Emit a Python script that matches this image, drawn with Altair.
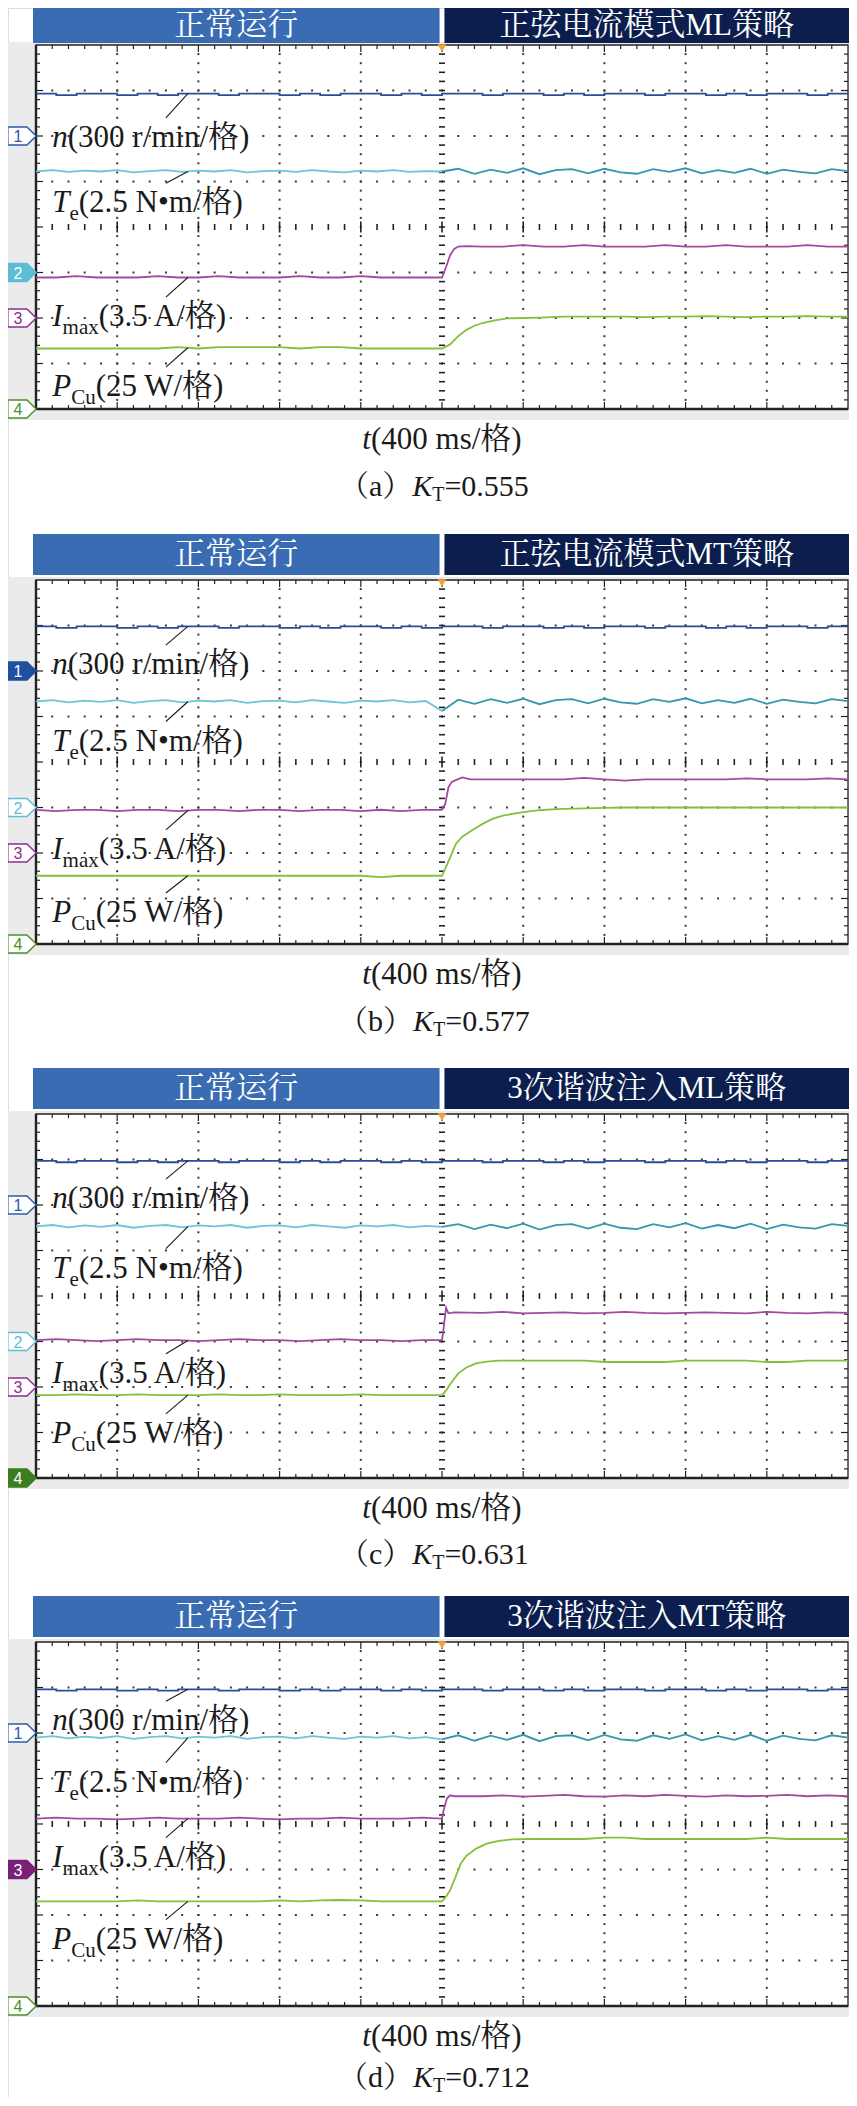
import altair as alt
import pandas as pd

# ---------------- layout ----------------
PX = 81.2          # px per horizontal division
PY = 45.5          # px per vertical division
W = 841
X0 = -28 / PX
X1 = 10 + 1 / PX
OFF = [0, 526, 1060, 1588]        # panel tops (px from chart top)
PLOT_TOP = [37, 46, 46, 46]        # plot top inside each panel
HEAD_H = [35, 41, 41, 41]
CAP_BASE = [87, 87, 86, 81]
HTOT = 2089
SERIF = "Liberation Serif, Noto Serif CJK SC, Noto Sans CJK SC"
SANS = "Liberation Sans, DejaVu Sans"

# ---------------- data (x: divisions 0..10, y: divisions 0..8) ----------------
HEAD_LEFT = "正常运行"
HEAD_RIGHT = ["正弦电流模式ML策略", "正弦电流模式MT策略", "3次谐波注入ML策略", "3次谐波注入MT策略"]
CAP_LETTER = ["a", "b", "c", "d"]
KT = ["0.555", "0.577", "0.631", "0.712"]

T_N = [round(0.25 * i, 2) for i in range(41)]
T_TE = [round(0.2 * i, 2) for i in range(51)]
T_PRE = [round(0.25 * i, 2) for i in range(21)]
T_IPOST = [round(5.5 + 0.25 * i, 2) for i in range(19)]
T_PPOST = [round(6.5 + 0.25 * i, 2) for i in range(15)]

N = [
    [6.93, 6.90, 6.93, 6.93, 6.90, 6.93, 6.90, 6.93, 6.93, 6.90, 6.93, 6.93, 6.90, 6.93, 6.90, 6.93, 6.93, 6.90, 6.93, 6.90,
     6.93, 6.93, 6.90, 6.93, 6.93, 6.90, 6.93, 6.90, 6.93, 6.93, 6.90, 6.93, 6.93, 6.90, 6.93, 6.90, 6.93, 6.93, 6.90, 6.93, 6.93],
    [6.98, 6.95, 6.98, 6.98, 6.95, 6.98, 6.95, 6.98, 6.98, 6.95, 6.98, 6.98, 6.95, 6.98, 6.95, 6.98, 6.98, 6.95, 6.98, 6.95,
     6.98, 6.98, 6.95, 6.98, 6.98, 6.95, 6.98, 6.95, 6.98, 6.98, 6.95, 6.98, 6.98, 6.95, 6.98, 6.95, 6.98, 6.98, 6.95, 6.98, 6.98],
    [6.97, 6.94, 6.97, 6.97, 6.94, 6.97, 6.94, 6.97, 6.97, 6.94, 6.97, 6.97, 6.94, 6.97, 6.94, 6.97, 6.97, 6.94, 6.97, 6.94,
     6.97, 6.97, 6.94, 6.97, 6.97, 6.94, 6.97, 6.94, 6.97, 6.97, 6.94, 6.97, 6.97, 6.94, 6.97, 6.94, 6.97, 6.97, 6.94, 6.97, 6.97],
    [6.96, 6.93, 6.96, 6.96, 6.93, 6.96, 6.93, 6.96, 6.96, 6.93, 6.96, 6.96, 6.93, 6.96, 6.93, 6.96, 6.96, 6.93, 6.96, 6.93,
     6.96, 6.96, 6.93, 6.96, 6.96, 6.93, 6.96, 6.93, 6.96, 6.96, 6.93, 6.96, 6.96, 6.93, 6.96, 6.93, 6.96, 6.96, 6.93, 6.96, 6.96],
]

TE = [
    [5.22, 5.25, 5.21, 5.24, 5.22, 5.25, 5.20, 5.23, 5.25, 5.21, 5.24, 5.22, 5.25, 5.20, 5.23, 5.24, 5.21, 5.25, 5.22, 5.20,
     5.24, 5.22, 5.25, 5.21, 5.23, 5.22,
     5.28, 5.17, 5.26, 5.19, 5.29, 5.16, 5.25, 5.27, 5.18, 5.28, 5.20, 5.17, 5.27, 5.21, 5.29, 5.18, 5.25, 5.19, 5.28, 5.17,
     5.26, 5.21, 5.18, 5.27, 5.23],
    [5.33, 5.36, 5.31, 5.35, 5.32, 5.36, 5.30, 5.34, 5.36, 5.31, 5.35, 5.33, 5.36, 5.30, 5.34, 5.35, 5.31, 5.36, 5.33, 5.30,
     5.35, 5.33, 5.36, 5.31, 5.34, 5.12,
     5.37, 5.28, 5.38, 5.30, 5.39, 5.27, 5.36, 5.38, 5.29, 5.39, 5.31, 5.28, 5.38, 5.32, 5.40, 5.29, 5.36, 5.30, 5.39, 5.28,
     5.37, 5.32, 5.29, 5.38, 5.34],
    [5.53, 5.56, 5.51, 5.55, 5.52, 5.56, 5.50, 5.54, 5.56, 5.51, 5.55, 5.53, 5.56, 5.50, 5.54, 5.55, 5.51, 5.56, 5.53, 5.50,
     5.55, 5.53, 5.56, 5.51, 5.54, 5.52,
     5.58, 5.47, 5.57, 5.49, 5.59, 5.46, 5.56, 5.58, 5.48, 5.59, 5.50, 5.47, 5.58, 5.51, 5.60, 5.48, 5.56, 5.49, 5.59, 5.47,
     5.57, 5.51, 5.48, 5.58, 5.54],
    [5.90, 5.93, 5.88, 5.92, 5.89, 5.93, 5.87, 5.91, 5.93, 5.88, 5.92, 5.90, 5.93, 5.87, 5.91, 5.92, 5.88, 5.93, 5.90, 5.87,
     5.92, 5.90, 5.93, 5.88, 5.91, 5.86,
     5.95, 5.83, 5.94, 5.85, 5.96, 5.82, 5.93, 5.95, 5.84, 5.96, 5.86, 5.83, 5.95, 5.87, 5.97, 5.84, 5.93, 5.85, 5.96, 5.83,
     5.94, 5.87, 5.84, 5.95, 5.90],
]

IMAX_PRE = [
    [2.89, 2.89, 2.92, 2.89, 2.89, 2.89, 2.92, 2.89, 2.89, 2.92, 2.89, 2.89, 2.89, 2.92, 2.89, 2.89, 2.92, 2.89, 2.89, 2.89, 2.89],
    [2.95, 2.92, 2.95, 2.95, 2.92, 2.95, 2.95, 2.92, 2.95, 2.95, 2.92, 2.95, 2.95, 2.92, 2.95, 2.95, 2.92, 2.95, 2.92, 2.95, 2.95],
    [3.03, 3.05, 3.03, 3.01, 3.03, 3.05, 3.03, 3.03, 3.01, 3.03, 3.05, 3.03, 3.03, 3.01, 3.03, 3.05, 3.03, 3.03, 3.01, 3.03, 3.03],
    [4.12, 4.14, 4.12, 4.12, 4.10, 4.12, 4.14, 4.12, 4.12, 4.12, 4.14, 4.12, 4.10, 4.12, 4.12, 4.14, 4.12, 4.12, 4.12, 4.14, 4.12],
]
IMAX_RISE_T = [
    [5.05, 5.1, 5.15, 5.2, 5.3],
    [5.04, 5.08, 5.12, 5.17, 5.25, 5.35],
    [5.02, 5.05, 5.08, 5.15],
    [5.02, 5.06, 5.1, 5.15],
]
IMAX_RISE_V = [
    [3.12, 3.38, 3.52, 3.57, 3.58],
    [3.08, 3.45, 3.56, 3.60, 3.66, 3.62],
    [3.30, 3.74, 3.62, 3.64],
    [4.30, 4.56, 4.63, 4.61],
]
IMAX_POST = [
    [3.57, 3.57, 3.60, 3.57, 3.57, 3.60, 3.57, 3.57, 3.57, 3.60, 3.57, 3.57, 3.60, 3.57, 3.57, 3.57, 3.60, 3.57, 3.57],
    [3.62, 3.62, 3.62, 3.62, 3.62, 3.65, 3.62, 3.59, 3.62, 3.62, 3.62, 3.62, 3.62, 3.64, 3.62, 3.62, 3.62, 3.64, 3.62],
    [3.63, 3.65, 3.62, 3.63, 3.64, 3.62, 3.63, 3.65, 3.63, 3.62, 3.63, 3.64, 3.63, 3.62, 3.65, 3.63, 3.62, 3.64, 3.63],
    [4.61, 4.63, 4.60, 4.62, 4.64, 4.61, 4.60, 4.63, 4.61, 4.64, 4.62, 4.60, 4.63, 4.61, 4.62, 4.64, 4.61, 4.63, 4.61],
]

PCU_PRE = [
    [1.33, 1.33, 1.33, 1.33, 1.33, 1.33, 1.33, 1.36, 1.33, 1.36, 1.36, 1.36, 1.36, 1.33, 1.36, 1.36, 1.33, 1.33, 1.33, 1.33, 1.33],
    [1.50, 1.50, 1.50, 1.50, 1.50, 1.50, 1.50, 1.50, 1.50, 1.50, 1.50, 1.50, 1.50, 1.50, 1.50, 1.50, 1.50, 1.47, 1.50, 1.50, 1.50],
    [1.82, 1.82, 1.84, 1.82, 1.82, 1.84, 1.82, 1.82, 1.82, 1.84, 1.82, 1.82, 1.84, 1.82, 1.82, 1.82, 1.84, 1.82, 1.82, 1.82, 1.82],
    [2.30, 2.30, 2.30, 2.30, 2.30, 2.32, 2.30, 2.30, 2.30, 2.30, 2.30, 2.30, 2.32, 2.30, 2.32, 2.33, 2.32, 2.30, 2.30, 2.30, 2.30],
]
PCU_RISE_T = [
    [5.1, 5.2, 5.3, 5.4, 5.5, 5.65, 5.8, 6.0, 6.2],
    [5.1, 5.17, 5.25, 5.38, 5.5, 5.62, 5.75, 5.9, 6.05, 6.2, 6.35],
    [5.05, 5.1, 5.2, 5.3, 5.42, 5.55, 5.7, 5.9, 6.2],
    [5.05, 5.1, 5.17, 5.23, 5.3, 5.42, 5.55, 5.7, 5.85, 6.1],
]
PCU_RISE_V = [
    [1.42, 1.60, 1.74, 1.83, 1.89, 1.95, 1.99, 2.00, 2.01],
    [1.90, 2.20, 2.36, 2.51, 2.64, 2.75, 2.82, 2.87, 2.91, 2.94, 2.96],
    [1.92, 2.06, 2.30, 2.43, 2.52, 2.56, 2.58, 2.58, 2.58],
    [2.40, 2.55, 2.85, 3.13, 3.30, 3.46, 3.57, 3.63, 3.66, 3.67],
]
PCU_POST = [
    [2.03, 2.03, 2.03, 2.03, 2.02, 2.03, 2.03, 2.04, 2.03, 2.02, 2.03, 2.03, 2.04, 2.03, 2.03],
    [2.97, 2.98, 2.99, 3.00, 3.00, 3.00, 3.00, 3.00, 3.00, 3.00, 3.00, 3.00, 3.00, 3.00, 3.00],
    [2.58, 2.58, 2.55, 2.55, 2.55, 2.55, 2.58, 2.58, 2.58, 2.58, 2.55, 2.55, 2.58, 2.58, 2.58],
    [3.67, 3.67, 3.70, 3.70, 3.67, 3.67, 3.67, 3.67, 3.67, 3.67, 3.70, 3.67, 3.67, 3.67, 3.67],
]

# label centres (divisions) for n, Te, Imax, PCu
LBL_N = [5.98, 6.15, 6.15, 6.28]
LBL_TE = [4.54, 4.47, 4.62, 4.93]
LBL_IMAX = [2.04, 2.09, 2.31, 3.28]
LBL_PCU = [0.50, 0.70, 0.99, 1.48]

# channel ground markers: level per channel (None = hidden), filled channel index
MARK_Y = [[6, 3, 2, 0], [6, 3, 2, 0], [6, 3, 2, 0], [6, None, 3, 0]]
MARK_FILLED = [1, 0, 3, 2]

# ---------------- colours ----------------
N_COL = "#2b4c97"
TE_COL1 = "#6cc5d8"
TE_COL2 = "#3596ad"
IMAX_COL = "#a04aa0"
PCU_COL = "#84c13b"
CH_COL = ["#2c59a8", "#5cbdd4", "#8e2d8e", "#4c8f2b"]
CH_FILL = ["#1f4f9f", "#5cbdd4", "#7a1f7a", "#3c7d20"]
HEAD_L_COL = "#3a6cb4"
HEAD_R_COL = "#0c1e4e"
BG_GRAY = "#ebebeb"
INK = "#1a1a1a"

W_REG = {'0': .5, '1': .5, '2': .5, '3': .5, '4': .5, '5': .5, '6': .5, '7': .5, '8': .5, '9': .5,
         ' ': .25, '(': .333, ')': .333, '/': .278, '.': .25, '=': .564, 'r': .333, 'm': .778, 'i': .278,
         'n': .5, 'N': .722, '•': .35, 'A': .722, 'W': .944, 's': .389, 'a': .444, 'x': .5, 'e': .444,
         'C': .667, 'u': .5, 'T': .611, 'b': .5, 'c': .444, 'd': .5}
W_IT = {'n': .5, 'T': .556, 'I': .333, 'P': .611, 't': .278, 'K': .667}


def tw(s, italic=False):
    if italic:
        return sum(W_IT.get(c, .5) for c in s)
    return sum(W_REG.get(c, 1.0) for c in s)


def width_of(parts):
    return sum(tw(t, i) * s for t, i, s, _ in parts)


def interp(ts, vs, t):
    for k in range(len(ts) - 1):
        if ts[k] <= t <= ts[k + 1]:
            f = (t - ts[k]) / (ts[k + 1] - ts[k])
            return vs[k] + f * (vs[k + 1] - vs[k])
    return vs[-1]


# containers for all panels (y in panel divisions, shifted to a global scale)
R_RECT, R_DOT, R_TICK, R_BORDER, R_N, R_TR, R_LEAD = [], [], [], [], [], [], []
R_REG, R_ITA, R_HEAD, R_MK, R_TRIG = [], [], [], [], []


def add_panel(p):
    sh = -8 - (OFF[p] + PLOT_TOP[p]) / PY          # global = div + sh
    ytop = 8 + PLOT_TOP[p] / PY                      # panel top in divisions
    head_bot = ytop - HEAD_H[p] / PY

    R_RECT.extend([
        dict(x=X0, x2=X1, y=8 + 3 / PY + sh, y2=-11 / PY + sh, fill=BG_GRAY, o=0),
        dict(x=0, x2=10, y=8 + sh, y2=0 + sh, fill="#ffffff", o=1),
        dict(x=-3 / PX, x2=4.97, y=ytop + sh, y2=head_bot + sh, fill=HEAD_L_COL, o=2),
        dict(x=5.03, x2=X1, y=ytop + sh, y2=head_bot + sh, fill=HEAD_R_COL, o=3),
    ])

    xs_minor = [round(0.2 * i, 2) for i in range(51)]
    ys_minor = [round(0.2 * i, 2) for i in range(41)]
    for xm in [1, 2, 3, 4, 6, 7, 8, 9]:
        for yv in ys_minor[1:-1]:
            R_DOT.append(dict(x=xm, y=yv + sh))
    for ym in [1, 2, 3, 5, 6, 7]:
        for xv in xs_minor[1:-1]:
            R_DOT.append(dict(x=xv, y=ym + sh))

    for xv in xs_minor[1:-1]:
        major = abs(xv - round(xv)) < 1e-6
        L = 7 if major else 4
        R_TICK.append(dict(x=xv, x2=xv, y=8 + sh, y2=8 - L / PY + sh, w=1.2))
        R_TICK.append(dict(x=xv, x2=xv, y=0 + sh, y2=L / PY + sh, w=1.2))
        h = 5.5 if major else 3
        R_TICK.append(dict(x=xv, x2=xv, y=4 - h / PY + sh, y2=4 + h / PY + sh, w=1.6))
    for yv in ys_minor[1:-1]:
        major = abs(yv - round(yv)) < 1e-6
        L = 7 if major else 4
        R_TICK.append(dict(x=0, x2=L / PX, y=yv + sh, y2=yv + sh, w=1.2))
        R_TICK.append(dict(x=10, x2=10 - L / PX, y=yv + sh, y2=yv + sh, w=1.2))
        R_TICK.append(dict(x=5 - 3 / PX, x2=5 + 3 / PX, y=yv + sh, y2=yv + sh, w=1.6))
    R_TICK.append(dict(x=0, x2=0, y=0 + sh, y2=8 + sh, w=2.4))
    R_TICK.append(dict(x=0, x2=10, y=0 + sh, y2=0 + sh, w=2.4))
    R_BORDER.append(dict(x=0, x2=10, y=0 + sh, y2=8 + sh))

    # traces
    for t, v in zip(T_N, N[p]):
        R_N.append(dict(t=t, v=v + sh, k="n%d" % p))
    for t, v in zip(T_TE[:26], TE[p][:26]):
        R_TR.append(dict(t=t, v=v + sh, k="te1_%d" % p, c=TE_COL1))
    for t, v in zip(T_TE[25:], TE[p][25:]):
        R_TR.append(dict(t=t, v=v + sh, k="te2_%d" % p, c=TE_COL2))
    imax_t = T_PRE + IMAX_RISE_T[p] + T_IPOST
    imax_v = IMAX_PRE[p] + IMAX_RISE_V[p] + IMAX_POST[p]
    for t, v in zip(imax_t, imax_v):
        R_TR.append(dict(t=t, v=v + sh, k="imax_%d" % p, c=IMAX_COL))
    pcu_t = T_PRE + PCU_RISE_T[p] + T_PPOST
    pcu_v = PCU_PRE[p] + PCU_RISE_V[p] + PCU_POST[p]
    for t, v in zip(pcu_t, pcu_v):
        R_TR.append(dict(t=t, v=v + sh, k="pcu_%d" % p, c=PCU_COL))

    # leaders
    levels = [interp(T_N, N[p], 1.87), interp(T_TE, TE[p], 1.87),
              interp(imax_t, imax_v, 1.87), interp(pcu_t, pcu_v, 1.87)]
    lbls = [LBL_N[p], LBL_TE[p], LBL_IMAX[p], LBL_PCU[p]]
    for lb, lv in zip(lbls, levels):
        R_LEAD.append(dict(x=1.6, x2=1.87, y=lb + 0.42 + sh, y2=lv + sh))

    # texts
    def compose(parts, x_left, y_base):
        cur = 0.0
        for text, italic, size, dy in parts:
            row = dict(x=x_left + cur / PX, y=y_base - dy / PY + sh, text=text, size=size, color=INK)
            (R_ITA if italic else R_REG).append(row)
            cur += tw(text, italic) * size

    S, SS = 31, 21
    base_shift = 10 / PY
    label_parts = [
        [("n", True, S, 0), ("(300 r/min/格)", False, S, 0)],
        [("T", True, S, 0), ("e", False, SS, 8), ("(2.5 N•m/格)", False, S, 0)],
        [("I", True, S, 0), ("max", False, SS, 8), ("(3.5 A/格)", False, S, 0)],
        [("P", True, S, 0), ("Cu", False, SS, 8), ("(25 W/格)", False, S, 0)],
    ]
    for parts, lb in zip(label_parts, lbls):
        compose(parts, 0.2, lb - base_shift)
    tparts = [("t", True, 31, 0), ("(400 ms/格)", False, 31, 0)]
    compose(tparts, 5.0 - width_of(tparts) / 2 / PX, -40 / PY)
    cparts = [("（", False, 30, 0), (CAP_LETTER[p], False, 30, 0), ("）", False, 30, 0),
              ("K", True, 30, 0), ("T", False, 20, 5), ("=" + KT[p], False, 30, 0)]
    compose(cparts, 4.9 - width_of(cparts) / 2 / PX, -CAP_BASE[p] / PY)

    hy = ytop - (HEAD_H[p] / 2) / PY + sh
    R_HEAD.append(dict(x=(-3 / PX + 4.97) / 2, y=hy, text=HEAD_LEFT))
    R_HEAD.append(dict(x=(5.03 + X1) / 2, y=hy, text=HEAD_RIGHT[p]))

    for ch in range(4):
        yv = MARK_Y[p][ch]
        if yv is None:
            continue
        filled = (MARK_FILLED[p] == ch)
        R_MK.append(dict(x=-14 / PX, y=yv + sh, fill=CH_FILL[ch] if filled else "#ffffff",
                         stroke=CH_FILL[ch] if filled else CH_COL[ch],
                         num=str(ch + 1), nx=-18 / PX, ncol="#ffffff" if filled else CH_COL[ch]))
    R_TRIG.append(dict(x=5.0, y=8 - 3 / PY + sh))


for p in range(4):
    add_panel(p)

XS = alt.Scale(domain=[X0, X1], nice=False, zero=False)
YS = alt.Scale(domain=[-HTOT / PY, 0], nice=False, zero=False)


def ex(f):
    return alt.X(f + ":Q", scale=XS, axis=None)


def ey(f):
    return alt.Y(f + ":Q", scale=YS, axis=None)


l_rect = alt.Chart(pd.DataFrame(R_RECT)).mark_rect().encode(
    x=ex("x"), x2="x2:Q", y=ey("y"), y2="y2:Q", color=alt.Color("fill:N", scale=None), order="o:Q")
l_dots = alt.Chart(pd.DataFrame(R_DOT)).mark_square(size=4, color="#3a3a3a", opacity=1).encode(
    x=ex("x"), y=ey("y"))
l_ticks = alt.Chart(pd.DataFrame(R_TICK)).mark_rule(color="#222222").encode(
    x=ex("x"), x2="x2:Q", y=ey("y"), y2="y2:Q", size=alt.Size("w:Q", scale=None))
l_border = alt.Chart(pd.DataFrame(R_BORDER)).mark_rect(
    fillOpacity=0, stroke="#222222", strokeWidth=1.3).encode(x=ex("x"), x2="x2:Q", y=ey("y"), y2="y2:Q")
l_n = alt.Chart(pd.DataFrame(R_N)).mark_line(interpolate="step-after", strokeWidth=1.8, color=N_COL).encode(
    x=ex("t"), y=ey("v"), detail="k:N")
l_tr = alt.Chart(pd.DataFrame(R_TR)).mark_line(strokeWidth=1.8).encode(
    x=ex("t"), y=ey("v"), color=alt.Color("c:N", scale=None), detail="k:N", order="t:Q")
l_lead = alt.Chart(pd.DataFrame(R_LEAD)).mark_rule(color=INK, strokeWidth=1.1).encode(
    x=ex("x"), x2="x2:Q", y=ey("y"), y2="y2:Q")
l_reg = alt.Chart(pd.DataFrame(R_REG)).mark_text(align="left", baseline="alphabetic", font=SERIF).encode(
    x=ex("x"), y=ey("y"), text="text:N", size=alt.Size("size:Q", scale=None),
    color=alt.Color("color:N", scale=None))
l_ita = alt.Chart(pd.DataFrame(R_ITA)).mark_text(align="left", baseline="alphabetic", font=SERIF,
                                                 fontStyle="italic").encode(
    x=ex("x"), y=ey("y"), text="text:N", size=alt.Size("size:Q", scale=None),
    color=alt.Color("color:N", scale=None))
l_head = alt.Chart(pd.DataFrame(R_HEAD)).mark_text(align="center", baseline="middle", font=SERIF, fontSize=31,
                                                   color="white").encode(x=ex("x"), y=ey("y"), text="text:N")
mk_df = pd.DataFrame(R_MK)
path = "M-1,-0.64L0.35,-0.64L1,0L0.35,0.64L-1,0.64Z"
l_mk = alt.Chart(mk_df).mark_point(shape=path, size=800, filled=True, opacity=1, strokeWidth=1.4).encode(
    x=ex("x"), y=ey("y"), fill=alt.Fill("fill:N", scale=None), stroke=alt.Stroke("stroke:N", scale=None))
l_mkt = alt.Chart(mk_df).mark_text(align="center", baseline="middle", font=SANS, fontSize=16, dy=1).encode(
    x=ex("nx"), y=ey("y"), text="num:N", color=alt.Color("ncol:N", scale=None))
l_trig = alt.Chart(pd.DataFrame(R_TRIG)).mark_point(
    shape="triangle-down", filled=True, opacity=1, size=80, color="#f2a33a").encode(x=ex("x"), y=ey("y"))

chart = alt.layer(l_rect, l_dots, l_ticks, l_border, l_n, l_tr, l_lead, l_reg, l_ita,
                  l_head, l_mk, l_mkt, l_trig).properties(
    width=W, height=HTOT, padding=0, autosize=alt.AutoSizeParams(type="none")
).configure_view(strokeWidth=0).configure(background="white")

chart.save("out.html", embed_options={"renderer": "svg", "actions": False})
